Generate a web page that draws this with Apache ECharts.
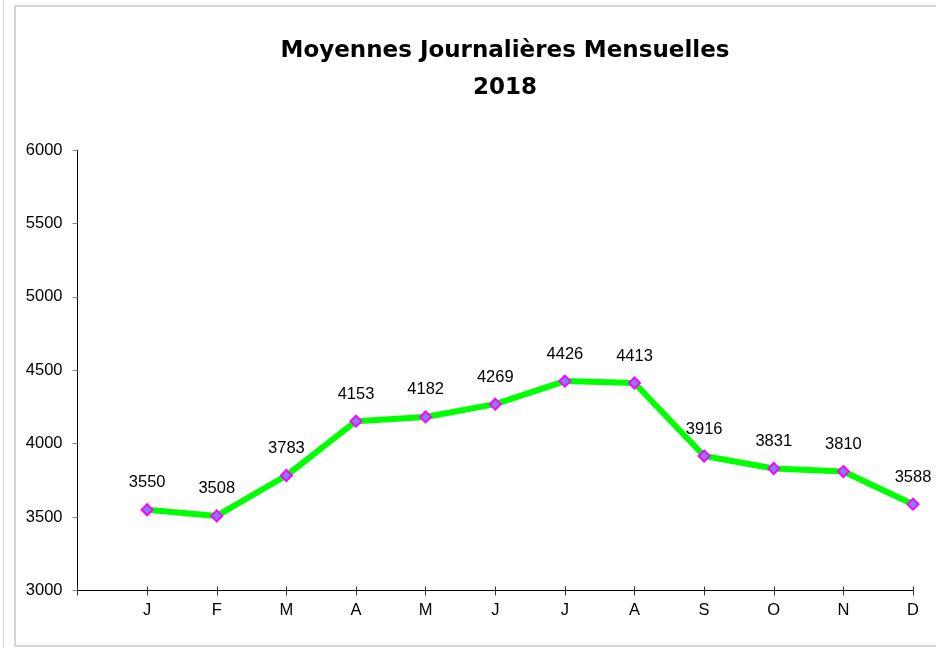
<!DOCTYPE html>
<html>
<head>
<meta charset="utf-8">
<script src="https://cdn.jsdelivr.net/npm/echarts@6/dist/echarts.min.js"></script>
<style>
  html, body { margin: 0; padding: 0; background: #ffffff; }
  #chart { width: 936px; height: 648px; }
</style>
</head>
<body>
<div id="chart"></div>
<script>
// Monthly labels (initials) and daily averages per month, 2018
const months = ['J', 'F', 'M', 'A', 'M', 'J', 'J', 'A', 'S', 'O', 'N', 'D'];
const dailyAverages = [3550, 3508, 3783, 4153, 4182, 4269, 4426, 4413, 3916, 3831, 3810, 3588];
const yTicks = { min: 3000, max: 6000, step: 500 };
const titleLines = ['Moyennes Journalières Mensuelles', '2018'];

// months sit at positions 1..12 on a 0..12 value axis
const points = dailyAverages.map((v, i) => [i + 1, v]);

const chart = echarts.init(document.getElementById('chart'), null, { renderer: 'canvas' });

const labelFont = { fontFamily: 'Liberation Sans, Arial, sans-serif', fontSize: 16.5, color: '#000' };

chart.setOption({
  animation: false,
  backgroundColor: '#ffffff',
  title: {
    text: titleLines.join('\n'),
    left: 500,
    top: 28,
    textAlign: 'center',
    textStyle: {
      fontFamily: '"Comic Sans MS", "DejaVu Sans", sans-serif',
      fontWeight: 'bold',
      fontSize: 23,
      lineHeight: 37,
      color: '#000'
    }
  },
  graphic: [
    {
      type: 'rect',
      silent: true,
      shape: { x: 15, y: 6, width: 930, height: 640 },
      style: { fill: 'none', stroke: '#d6d6d6', lineWidth: 2 }
    },
    {
      type: 'line',
      silent: true,
      shape: { x1: 3.5, y1: 0, x2: 3.5, y2: 648 },
      style: { stroke: '#d9d9d9', lineWidth: 1 }
    }
  ],
  grid: { left: 77.5, right: 23, top: 150, bottom: 57.5, containLabel: false },
  xAxis: [
    {
      type: 'value',
      min: 0,
      max: months.length,
      interval: 1,
      axisLine: { show: true, lineStyle: { color: '#000', width: 1 } },
      axisTick: { show: true, length: 5, lineStyle: { color: '#333', width: 1 } },
      splitLine: { show: false },
      axisLabel: Object.assign({
        margin: 11,
        formatter: v => (v >= 1 && v <= months.length ? months[v - 1] : '')
      }, labelFont)
    },
    {
      type: 'value',
      position: 'bottom',
      min: 0,
      max: months.length,
      interval: 1,
      axisLine: { show: false },
      axisTick: { show: true, inside: true, length: 4, lineStyle: { color: '#333', width: 1 } },
      splitLine: { show: false },
      axisLabel: { show: false }
    }
  ],
  yAxis: {
    type: 'value',
    min: yTicks.min,
    max: yTicks.max,
    interval: yTicks.step,
    axisLine: { show: true, lineStyle: { color: '#000', width: 1 } },
    axisTick: { show: true, length: 5, lineStyle: { color: '#888', width: 1 } },
    splitLine: { show: false },
    axisLabel: Object.assign({ margin: 15, formatter: v => String(v) }, labelFont)
  },
  series: [
    {
      type: 'line',
      data: points,
      symbol: 'diamond',
      symbolSize: 11,
      showAllSymbol: true,
      lineStyle: { color: '#00ff00', width: 6 },
      itemStyle: { color: '#7f7fff', borderColor: '#ff00ff', borderWidth: 2 },
      label: Object.assign({
        show: true,
        position: 'top',
        distance: 12,
        formatter: p => String(p.value[1])
      }, labelFont),
      z: 3
    }
  ]
});
</script>
</body>
</html>
